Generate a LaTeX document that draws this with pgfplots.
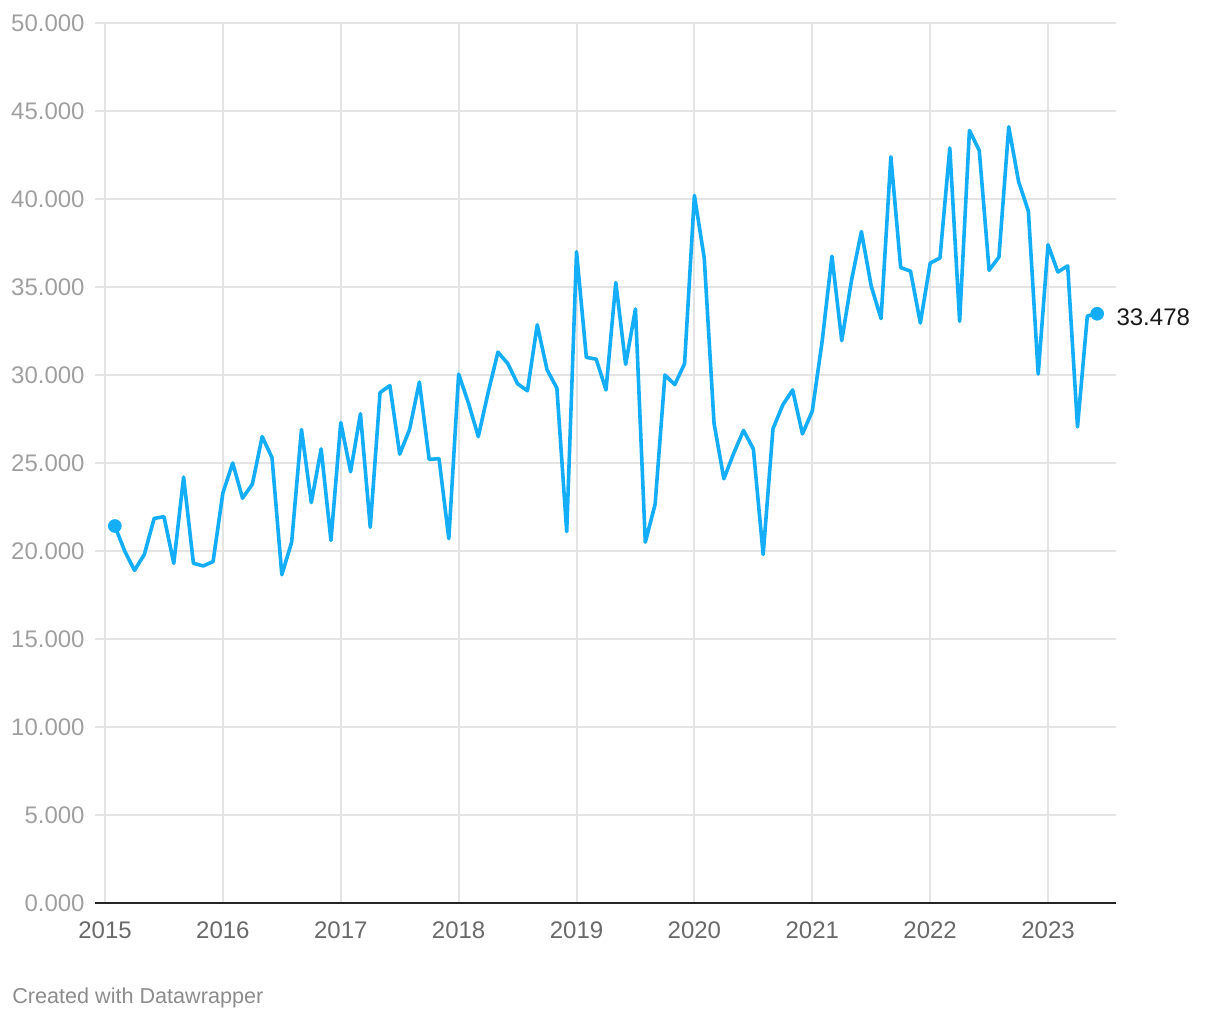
\documentclass[border=0pt]{standalone}
\usepackage{pgfplots}
\pgfplotsset{compat=1.18}
\usepackage{fontspec}
\setmainfont{Liberation Sans}
\definecolor{lineblue}{RGB}{20,174,248}
\definecolor{gridgray}{RGB}{228,228,228}
\definecolor{ylab}{RGB}{160,160,160}
\definecolor{xlab}{RGB}{105,105,105}
\definecolor{credit}{RGB}{140,140,140}
\pgfplotstableread{
m v
1 21420
2 20000
3 18900
4 19800
5 21850
6 21950
7 19300
8 24200
9 19300
10 19150
11 19400
12 23300
13 25000
14 23000
15 23800
16 26500
17 25300
18 18650
19 20500
20 26900
21 22750
22 25800
23 20600
24 27300
25 24500
26 27800
27 21350
28 29000
29 29400
30 25500
31 26900
32 29600
33 25200
34 25250
35 20700
36 30050
37 28400
38 26500
39 29000
40 31300
41 30650
42 29500
43 29100
44 32850
45 30300
46 29250
47 21100
48 37000
49 31000
50 30900
51 29150
52 35250
53 30600
54 33750
55 20500
56 22650
57 30000
58 29450
59 30650
60 40200
61 36650
62 27250
63 24100
64 25550
65 26850
66 25800
67 19800
68 26950
69 28300
70 29150
71 26650
72 27950
73 31900
74 36750
75 31950
76 35400
77 38150
78 35050
79 33200
80 42400
81 36100
82 35900
83 32950
84 36350
85 36650
86 42900
87 33050
88 43900
89 42750
90 35950
91 36700
92 44100
93 41000
94 39300
95 30050
96 37400
97 35850
98 36200
99 27050
100 33350
101 33478
}\datatable
\begin{document}
\begin{tikzpicture}
\path[use as bounding box] (0,0) rectangle (610pt,510pt);
\begin{axis}[
  at={(47.5pt,58.5pt)}, anchor=south west,
  scale only axis,
  width=510.5pt, height=440pt,
  xmin=-1.02, xmax=102.92,
  ymin=0, ymax=50000,
  axis line style={draw=none},
  major tick length=0pt,
  xtick={0,12,24,36,48,60,72,84,96},
  xticklabels={2015,2016,2017,2018,2019,2020,2021,2022,2023},
  ytick={0,5000,10000,15000,20000,25000,30000,35000,40000,45000,50000},
  yticklabels={0.000,5.000,10.000,15.000,20.000,25.000,30.000,35.000,40.000,45.000,50.000},
  xmajorgrids, ymajorgrids,
  grid style={gridgray, line width=1pt},
  extra y ticks={0},
  extra y tick labels={},
  extra y tick style={grid style={black!85, line width=1.1pt}},
  xticklabel style={font=\fontsize{12}{14}\selectfont, text=xlab, anchor=north, inner sep=0pt, yshift=-9pt},
  yticklabel style={font=\fontsize{12}{14}\selectfont, text=ylab, anchor=east, inner sep=0pt, xshift=-5pt},
  clip=false,
]
\addplot[lineblue, line width=1.8pt, line join=round, mark=none] table[x=m,y=v] {\datatable};
\addplot[only marks, mark=*, mark size=3.2pt, lineblue, mark options={draw=lineblue, fill=lineblue}] coordinates {(1,21420) (101,33478)};
\node[anchor=west, font=\fontsize{12}{14}\selectfont, text=black!90, inner sep=0pt, xshift=9.5pt, yshift=-1.5pt] at (axis cs:101,33478) {33.478};
\end{axis}
\node[anchor=base west, font=\fontsize{10.8}{13}\selectfont, text=credit, inner sep=0pt] at (6pt,8pt) {Created with Datawrapper};
\end{tikzpicture}
\end{document}
